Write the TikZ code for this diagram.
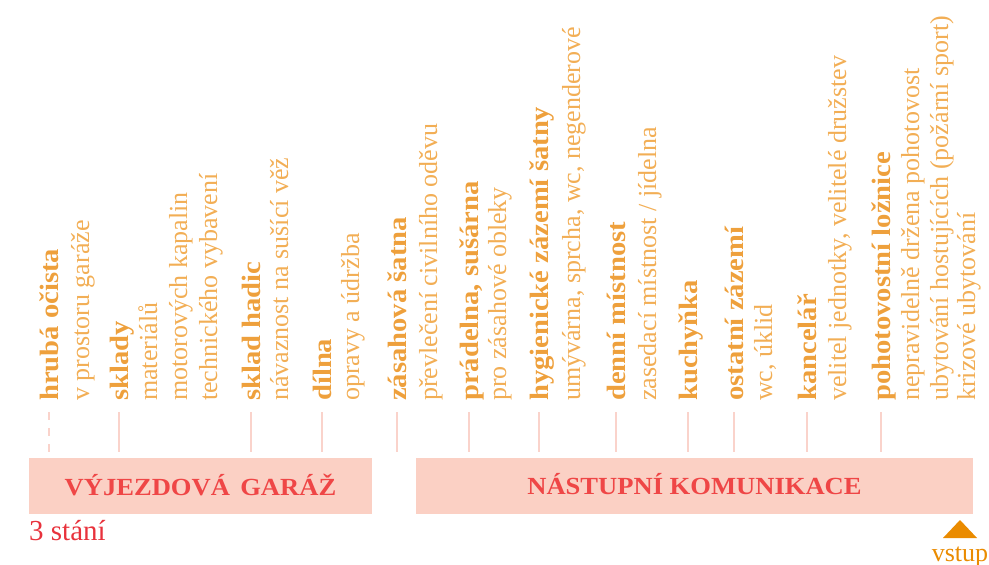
\documentclass[tikz,border=0pt]{standalone}
\usepackage{fontspec}
\setmainfont{Liberation Serif}[BoldFeatures={FakeStretch=1.08}]
\definecolor{boxfill}{HTML}{FBD0C4}
\definecolor{boxtext}{HTML}{EF4646}
\definecolor{redtext}{HTML}{E8323C}
\definecolor{headc}{HTML}{EEA03C}
\definecolor{descc}{HTML}{F2AE55}
\definecolor{tickc}{HTML}{FAD3CB}
\definecolor{entryc}{HTML}{EA8B00}
\newcommand\hdfont{\fontsize{26.5}{30}\selectfont\bfseries}
\newcommand\dsfont{\fontsize{26}{30}\selectfont}
\begin{document}
\begin{tikzpicture}[x=1pt,y=-1pt,
  head/.style={rotate=90, anchor=base west, inner sep=0pt, font=\hdfont, text=headc},
  desc/.style={rotate=90, anchor=base west, inner sep=0pt, font=\dsfont, text=descc},
  tickline/.style={draw=tickc, line width=2pt},
  zone/.style={fill=boxfill, draw=none, anchor=north west, inner sep=0pt},
  zonelabel/.style={anchor=base, inner sep=0pt, text=boxtext, font=\fontsize{24.6}{30}\selectfont\bfseries}]
\useasboundingbox (0,0) rectangle (989,565);

% garage group
\node[head] (h1) at (58,401) {hrubá očista};
\node[desc] (d1a) at (89,401) {v prostoru garáže};
\node[head] (h2) at (128,401) {sklady};
\node[desc] (d2a) at (157,401) {materiálů};
\node[desc] (d2b) at (187,401) {motorových kapalin};
\node[desc] (d2c) at (217,401) {technického vybavení};
\node[head] (h3) at (260,401) {sklad hadic};
\node[desc] (d3a) at (288,401) {návaznost na sušící věž};
\node[head] (h4) at (331,401) {dílna};
\node[desc] (d4a) at (359,401) {opravy a údržba};

% corridor group
\node[head] (h5) at (406,401) {zásahová šatna};
\node[desc] (d5a) at (437,401) {převlečení civilního oděvu};
\node[head] (h6) at (478,401) {prádelna, sušárna};
\node[desc] (d6a) at (506,401) {pro zásahové obleky};
\node[head] (h7) at (548,401) {hygienické zázemí šatny};
\node[desc] (d7a) at (580,401) {umývárna, sprcha, wc, negenderové};
\node[head] (h8) at (625,401) {denní místnost};
\node[desc] (d8a) at (656,401) {zasedací místnost / jídelna};
\node[head] (h9) at (697,401) {kuchyňka};
\node[head] (h10) at (743,401) {ostatní zázemí};
\node[desc] (d10a) at (772,401) {wc, úklid};
\node[head] (h11) at (816,401) {kancelář};
\node[desc] (d11a) at (846,401) {velitel jednotky, velitelé družstev};
\node[head] (h12) at (890,401) {pohotovostní ložnice};
\node[desc] (d12a) at (919,401) {nepravidelně držena pohotovost};
\node[desc] (d12b) at (948,401) {ubytování hostujících (požární sport)};
\node[desc] (d12c) at (975,401) {krizové ubytování};

% ticks under the headings
\foreach \n/\x in {t2/119,t3/251,t4/322,t5/397,t6/469,t7/539,t8/616,t9/688,t10/734,t11/807,t12/881}{
  \coordinate (\n) at (\x,412);
  \draw[tickline] (\n) -- ++(0,40);
}
\coordinate (t1) at (49,412);
\draw[tickline, dash pattern=on 8pt off 8pt] (t1) -- ++(0,40);

% zones
\node[zone, minimum width=343pt, minimum height=56pt] (garage) at (29,458) {};
\node[zonelabel] (garagelabel) at (200.5,495) {VÝJEZDOVÁ\hspace{0.42em}GARÁŽ};
\node[zone, minimum width=557pt, minimum height=56pt] (corridor) at (416,458) {};
\node[zonelabel] (corridorlabel) at (694.5,494) {NÁSTUPNÍ KOMUNIKACE};

\node[anchor=base west, inner sep=0pt, text=redtext, font=\fontsize{29}{30}\selectfont] (stalls) at (29,540) {3 stání};

% entrance marker
\fill[entryc] (943,538) -- (960,520) -- (977,538) -- cycle;
\node[anchor=base, inner sep=0pt, text=entryc, font=\fontsize{26}{30}\selectfont] (entry) at (960,561) {vstup};
\end{tikzpicture}
\end{document}
